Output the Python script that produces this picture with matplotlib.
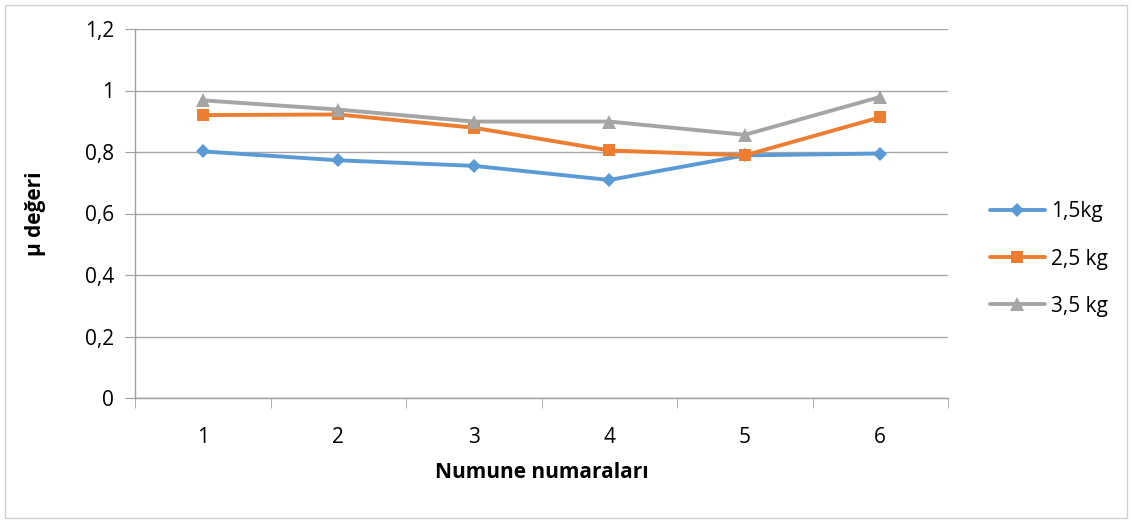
import matplotlib
matplotlib.use("Agg")
import matplotlib.pyplot as plt
from matplotlib.patches import Rectangle

categories = [1, 2, 3, 4, 5, 6]
series_names = ["1,5kg", "2,5 kg", "3,5 kg"]
s1 = [0.802, 0.773, 0.755, 0.709, 0.789, 0.795]
s2 = [0.920, 0.922, 0.879, 0.805, 0.789, 0.913]
s3 = [0.968, 0.938, 0.899, 0.899, 0.856, 0.979]
y_ticks = [0, 0.2, 0.4, 0.6, 0.8, 1.0, 1.2]
y_tick_labels = ["0", "0,2", "0,4", "0,6", "0,8", "1", "1,2"]

plt.rcParams['font.family'] = ['Open Sans', 'DejaVu Sans']

W, H = 1132, 522
fig = plt.figure(figsize=(W / 100, H / 100), dpi=100)
ax = fig.add_axes([135 / W, 1 - 398 / H, (948 - 135) / W, (398 - 29) / H])

fig.patches.append(Rectangle((5 / W, 4 / H), 1 - 10 / W, 1 - 9 / H, transform=fig.transFigure,
                             fill=False, edgecolor='#D0D0D0', linewidth=1))

colors = ['#5B9BD5', '#ED7D31', '#A5A5A5']
markers = ['D', 's', '^']
msizes = [7.5, 9, 9.5]
for vals, name, c, m, ms in zip([s1, s2, s3], series_names, colors, markers, msizes):
    ax.plot(categories, vals, color=c, linewidth=2.8, marker=m, markersize=ms,
            markeredgewidth=0, label=name, solid_capstyle='round')

ax.set_xlim(0.5, 6.5)
ax.set_ylim(0, 1.2)
ax.set_yticks(y_ticks)
ax.set_yticklabels(y_tick_labels, fontsize=15)
ax.set_xticks(categories)
ax.set_xticklabels([str(c) for c in categories], fontsize=15)
ax.set_xticks([c - 0.5 for c in categories] + [6.5], minor=True)
ax.tick_params(axis='x', which='major', length=0, pad=21)
ax.tick_params(axis='x', which='minor', length=7, color='#A0A0A0', direction='out')
ax.tick_params(axis='y', length=7, color='#A0A0A0', direction='out', pad=8)
ax.grid(axis='y', color='#A6A6A6', linewidth=1)
ax.set_axisbelow(True)
for s in ['top', 'right']:
    ax.spines[s].set_visible(False)
for s in ['left', 'bottom']:
    ax.spines[s].set_color('#A0A0A0')
    ax.spines[s].set_linewidth(1)

ax.set_xlabel("Numune numaraları", fontsize=15, fontweight='bold')
ax.set_ylabel("μ değeri", fontsize=15, fontweight='bold')
ax.xaxis.set_label_coords(0.5, (398 - 473) / 369)
ax.yaxis.set_label_coords((35 - 135) / 813, 0.5)
ax.xaxis.label.set_va('center')
ax.yaxis.label.set_va('center')

leg = ax.legend(loc='center left', bbox_to_anchor=(982 / W, 1 - 259 / H), bbox_transform=fig.transFigure,
                frameon=False, fontsize=15, handlelength=2.6, labelspacing=1.25, handletextpad=0.3,
                borderaxespad=0)

fig.savefig("out.png", dpi=100)
